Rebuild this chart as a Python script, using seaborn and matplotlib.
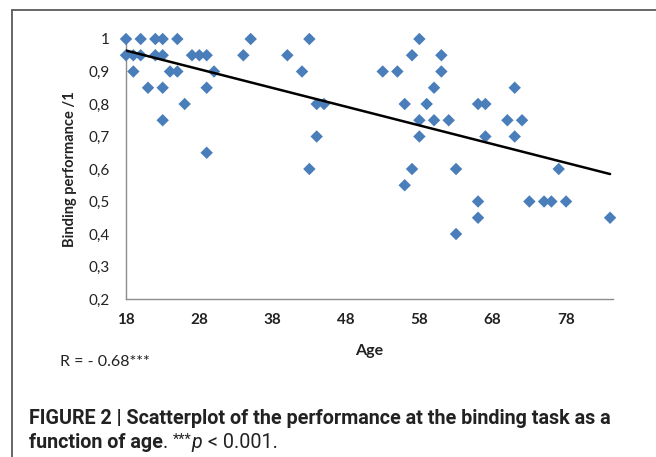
import matplotlib
matplotlib.use("Agg")
import matplotlib.pyplot as plt
from matplotlib import font_manager
from matplotlib.lines import Line2D
import seaborn as sns
import pandas as pd

# values
age = [18, 20, 22, 23, 25, 35, 43, 58,
       18, 19, 20, 22, 23, 27, 28, 29, 34, 40, 57, 61,
       19, 24, 25, 30, 42, 53, 55, 61,
       21, 23, 29, 60, 71,
       26, 44, 45, 56, 59, 66, 67,
       23, 58, 60, 62, 70, 72,
       44, 58, 67, 71,
       29,
       43, 57, 63, 77,
       56,
       66, 73, 75, 76, 78,
       66, 84,
       63]
performance = [1.0, 1.0, 1.0, 1.0, 1.0, 1.0, 1.0, 1.0,
               0.95, 0.95, 0.95, 0.95, 0.95, 0.95, 0.95, 0.95, 0.95, 0.95, 0.95, 0.95,
               0.9, 0.9, 0.9, 0.9, 0.9, 0.9, 0.9, 0.9,
               0.85, 0.85, 0.85, 0.85, 0.85,
               0.8, 0.8, 0.8, 0.8, 0.8, 0.8, 0.8,
               0.75, 0.75, 0.75, 0.75, 0.75, 0.75,
               0.7, 0.7, 0.7, 0.7,
               0.65,
               0.6, 0.6, 0.6, 0.6,
               0.55,
               0.5, 0.5, 0.5, 0.5, 0.5,
               0.45, 0.45,
               0.4]
x_ticks = [18, 28, 38, 48, 58, 68, 78]
y_ticks = [0.2, 0.3, 0.4, 0.5, 0.6, 0.7, 0.8, 0.9, 1.0]
y_tick_labels = ["0,2", "0,3", "0,4", "0,5", "0,6", "0,7", "0,8", "0,9", "1"]

df = pd.DataFrame({"Age": age, "Binding": performance})

sns.set_style("white")
installed = {f.name for f in font_manager.fontManager.ttflist}
chart_font = "Lato" if "Lato" in installed else "DejaVu Sans"
cap_font = "Liberation Sans Narrow" if "Liberation Sans Narrow" in installed else "Roboto"
plt.rcParams["font.family"] = [chart_font, "DejaVu Sans"]

W, H = 656, 457
fig = plt.figure(figsize=(W / 100, H / 100), dpi=100)
fig.patch.set_facecolor("white")
ax = fig.add_axes([126 / W, 1 - 299 / H, (613 - 126) / W, (299 - 39) / H])

sns.scatterplot(data=df, x="Age", y="Binding", marker="D", s=40, color="#4A7EBB",
                edgecolor="none", clip_on=False, zorder=3, ax=ax)
sns.regplot(data=df, x="Age", y="Binding", scatter=False, ci=None, truncate=True,
            color="black", line_kws={"lw": 1.8, "zorder": 4}, ax=ax)

ax.set_xlim(18, 84.4)
ax.set_ylim(0.2, 1.0)
ax.set_xticks(x_ticks)
ax.set_yticks(y_ticks)
ax.set_yticklabels(y_tick_labels)
for side in ["top", "right"]:
    ax.spines[side].set_visible(False)
for side in ["left", "bottom"]:
    ax.spines[side].set_color("#8c8c8c")
    ax.spines[side].set_linewidth(1.0)
ax.tick_params(axis="both", direction="out", length=4, width=1, color="#8c8c8c",
               labelsize=11, labelcolor="#222222", pad=6)
ax.tick_params(axis="y", pad=8)
for lbl in ax.get_xticklabels():
    lbl.set_fontweight("bold")

ax.set_xlabel("")
ax.set_ylabel("")
fig.text(369 / W, 1 - 351 / H, "Age", ha="center", va="center", fontsize=11.5,
         fontweight="bold", color="#222222")
fig.text(70 / W, 1 - 169 / H, "Binding performance /1", ha="center", va="center",
         rotation=90, fontsize=10.5, fontweight="bold", color="#222222")
fig.text(60 / W, 1 - 362 / H, "R = - 0.68***", ha="left", va="center", fontsize=11.5,
         color="#222222")

# outer frame of the figure panel
frame = dict(color="#5a5a5a", lw=1.3, transform=fig.transFigure)
fig.add_artist(Line2D([12 / W, 1], [1 - 10 / H, 1 - 10 / H], **frame))
fig.add_artist(Line2D([12 / W, 12 / W], [0, 1 - 10 / H], **frame))

# caption, sized so the first line spans the same width as the reference
renderer = fig.canvas.get_renderer()
line1 = fig.text(29 / W, 1 - 419 / H,
                 "FIGURE 2 | Scatterplot of the performance at the binding task as a",
                 family=[cap_font, "DejaVu Sans"], fontweight="bold", fontsize=13,
                 color="#222222", va="center")
w1 = line1.get_window_extent(renderer).width
cap_size = 13 * (610 - 29) / w1
line1.set_fontsize(cap_size)

pieces = [("function of age", "bold", "normal", cap_size, 0),
          (". ", "normal", "normal", cap_size, 0),
          ("***", "normal", "normal", cap_size * 0.75, 3),
          ("p", "normal", "italic", cap_size, 0),
          (" < 0.001.", "normal", "normal", cap_size, 0)]
x_px = 29
for txt, weight, style, size, rise in pieces:
    t = fig.text(x_px / W, 1 - (443 - rise) / H, txt, family=[cap_font, "DejaVu Sans"],
                 fontweight=weight, fontstyle=style, fontsize=size, color="#222222",
                 va="center")
    x_px += t.get_window_extent(renderer).width

fig.savefig("out.png", dpi=100, facecolor="white")
